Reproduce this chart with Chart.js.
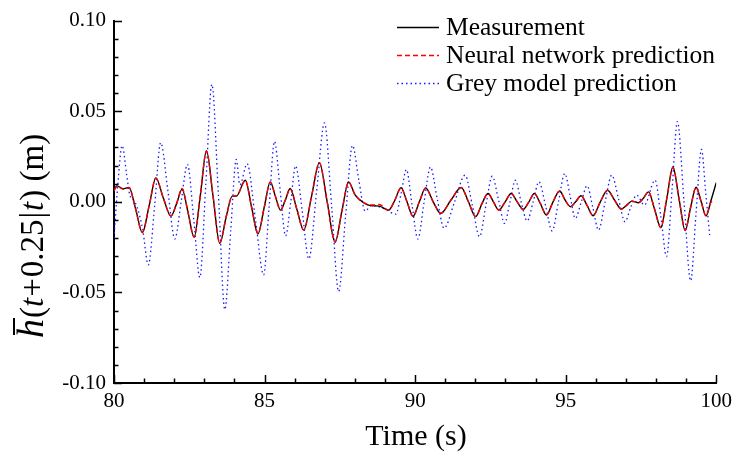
<!DOCTYPE html>
<html>
<head>
<meta charset="utf-8">
<script src="https://cdn.jsdelivr.net/npm/chart.js@4.4.1/dist/chart.umd.min.js"></script>
<style>
  html, body { margin: 0; padding: 0; background: #ffffff; }
  #wrap { width: 738px; height: 459px; }
</style>
</head>
<body>
<div id="wrap"><canvas id="c" width="738" height="459"></canvas></div>
<script>
// ---- Data ----
const seriesLabels = ["Measurement", "Neural network prediction", "Grey model prediction"];

const measTime = [80.00, 80.10, 80.30, 80.50, 80.72, 80.94, 81.17, 81.39, 81.64, 81.89, 82.08, 82.26, 82.46, 82.66, 82.87, 83.07, 83.29, 83.51, 83.73, 83.92, 84.07, 84.36, 84.57, 84.78, 84.99, 85.19, 85.36, 85.53, 85.69, 85.85, 86.07, 86.30, 86.56, 86.82, 87.08, 87.34, 87.57, 87.79, 88.00, 88.15, 88.40, 88.59, 88.81, 89.12, 89.33, 89.53, 89.73, 89.93, 90.14, 90.35, 90.60, 90.85, 91.19, 91.53, 91.77, 92.01, 92.22, 92.42, 92.60, 92.78, 92.99, 93.19, 93.39, 93.59, 93.78, 93.96, 94.16, 94.36, 94.58, 94.80, 94.98, 95.16, 95.33, 95.51, 95.71, 95.91, 96.15, 96.39, 96.62, 96.85, 97.02, 97.20, 97.42, 97.58, 97.75, 97.95, 98.16, 98.36, 98.56, 98.77, 98.97, 99.15, 99.33, 99.50, 99.66, 99.83, 100.00];
const measValue = [0.0070, 0.0088, 0.0072, 0.0079, -0.0040, -0.0170, -0.0020, 0.0132, 0.0020, -0.0079, -0.0010, 0.0070, -0.0060, -0.0196, 0.0040, 0.0282, 0.0030, -0.0229, -0.0080, 0.0030, 0.0032, 0.0119, -0.0030, -0.0177, -0.0030, 0.0110, 0.0030, -0.0046, 0.0010, 0.0073, -0.0040, -0.0156, 0.0030, 0.0216, 0.0000, -0.0223, -0.0050, 0.0110, 0.0040, 0.0013, -0.0015, -0.0022, -0.0024, -0.0046, 0.0010, 0.0078, 0.0000, -0.0080, 0.0000, 0.0077, 0.0000, -0.0064, 0.0010, 0.0079, 0.0000, -0.0082, -0.0010, 0.0046, 0.0000, -0.0046, 0.0000, 0.0046, 0.0000, -0.0042, 0.0000, 0.0046, -0.0010, -0.0073, 0.0000, 0.0060, 0.0010, -0.0027, 0.0000, 0.0033, -0.0020, -0.0077, 0.0000, 0.0064, 0.0010, -0.0040, -0.0020, 0.0004, -0.0005, 0.0020, 0.0055, -0.0040, -0.0143, 0.0020, 0.0192, 0.0010, -0.0159, -0.0030, 0.0080, 0.0000, -0.0078, 0.0010, 0.0106];

const nnTime = [80.00, 80.10, 80.30, 80.50, 80.72, 80.94, 81.17, 81.39, 81.64, 81.89, 82.08, 82.26, 82.46, 82.66, 82.87, 83.07, 83.29, 83.51, 83.73, 83.92, 84.07, 84.36, 84.57, 84.78, 84.99, 85.19, 85.36, 85.53, 85.69, 85.85, 86.07, 86.30, 86.56, 86.82, 87.08, 87.34, 87.57, 87.79, 88.00, 88.15, 88.40, 88.59, 88.81, 89.12, 89.33, 89.53, 89.73, 89.93, 90.14, 90.35, 90.60, 90.85, 91.19, 91.53, 91.77, 92.01, 92.22, 92.42, 92.60, 92.78, 92.99, 93.19, 93.39, 93.59, 93.78, 93.96, 94.16, 94.36, 94.58, 94.80, 94.98, 95.16, 95.33, 95.51, 95.71, 95.91, 96.15, 96.39, 96.62, 96.85, 97.02, 97.20, 97.42, 97.58, 97.75, 97.95, 98.16, 98.36, 98.56, 98.77, 98.97, 99.15, 99.33, 99.50, 99.66, 99.80, 99.86, 99.93];
const nnValue = [0.0060, 0.0085, 0.0070, 0.0078, -0.0042, -0.0168, -0.0020, 0.0130, 0.0020, -0.0078, -0.0008, 0.0074, -0.0060, -0.0194, 0.0040, 0.0280, 0.0030, -0.0227, -0.0080, 0.0030, 0.0034, 0.0117, -0.0030, -0.0175, -0.0030, 0.0108, 0.0030, -0.0045, 0.0010, 0.0072, -0.0040, -0.0155, 0.0030, 0.0214, 0.0000, -0.0221, -0.0050, 0.0108, 0.0040, 0.0012, -0.0013, -0.0018, -0.0015, -0.0045, 0.0010, 0.0077, 0.0000, -0.0079, 0.0000, 0.0076, 0.0000, -0.0063, 0.0010, 0.0078, 0.0000, -0.0081, -0.0010, 0.0046, 0.0000, -0.0045, 0.0000, 0.0045, 0.0000, -0.0042, 0.0000, 0.0046, -0.0010, -0.0072, 0.0000, 0.0059, 0.0010, -0.0027, 0.0000, 0.0033, -0.0020, -0.0076, 0.0000, 0.0063, 0.0010, -0.0040, -0.0020, 0.0004, -0.0005, 0.0020, 0.0054, -0.0040, -0.0141, 0.0020, 0.0190, 0.0010, -0.0157, -0.0030, 0.0079, 0.0000, -0.0077, -0.0010, 0.0000, -0.0002];

const greyTime = [80.00, 80.12, 80.27, 80.42, 80.52, 80.65, 80.77, 80.95, 81.14, 81.35, 81.55, 81.79, 82.02, 82.23, 82.44, 82.65, 82.85, 83.05, 83.25, 83.47, 83.68, 83.88, 84.06, 84.18, 84.42, 84.70, 84.97, 85.15, 85.33, 85.52, 85.70, 85.87, 86.03, 86.25, 86.47, 86.73, 86.99, 87.23, 87.46, 87.69, 87.92, 88.13, 88.34, 88.55, 88.75, 89.00, 89.36, 89.54, 89.71, 89.90, 90.09, 90.30, 90.51, 90.73, 90.96, 91.31, 91.66, 91.90, 92.14, 92.35, 92.56, 92.77, 92.97, 93.15, 93.33, 93.52, 93.72, 93.92, 94.11, 94.33, 94.55, 94.76, 94.97, 95.15, 95.32, 95.52, 95.71, 95.90, 96.09, 96.31, 96.53, 96.75, 96.97, 97.16, 97.36, 97.61, 97.97, 98.16, 98.35, 98.53, 98.71, 98.93, 99.15, 99.33, 99.51, 99.65, 99.78];
const greyValue = [-0.0200, 0.0080, 0.0310, 0.0150, 0.0040, 0.0010, -0.0030, -0.0150, -0.0348, -0.0020, 0.0326, 0.0060, -0.0205, 0.0000, 0.0207, -0.0100, -0.0418, 0.0100, 0.0648, 0.0030, -0.0595, -0.0150, 0.0234, 0.0093, 0.0210, -0.0100, -0.0403, -0.0030, 0.0333, 0.0060, -0.0188, 0.0000, 0.0198, -0.0050, -0.0315, 0.0060, 0.0436, -0.0030, -0.0495, -0.0080, 0.0311, 0.0120, -0.0051, -0.0020, -0.0025, -0.0040, -0.0068, 0.0050, 0.0178, -0.0020, -0.0205, 0.0000, 0.0192, 0.0020, -0.0146, 0.0000, 0.0147, -0.0020, -0.0192, -0.0020, 0.0141, 0.0010, -0.0119, 0.0000, 0.0119, 0.0000, -0.0106, 0.0000, 0.0110, -0.0020, -0.0161, 0.0000, 0.0156, 0.0030, -0.0092, 0.0000, 0.0088, -0.0030, -0.0156, 0.0000, 0.0147, 0.0020, -0.0110, -0.0030, 0.0037, -0.0018, 0.0119, -0.0080, -0.0302, 0.0060, 0.0443, 0.0000, -0.0436, -0.0060, 0.0289, 0.0050, -0.0183];

const xTickValues = [80, 85, 90, 95, 100];
const yTickValues = [-0.10, -0.05, 0.00, 0.05, 0.10];

// ---- helpers ----
const toPoints = (ts, vs) => ts.map((t, i) => ({ x: t, y: vs[i] }));
const SERIF = '"Liberation Serif", "Times New Roman", serif';

// inward major / minor tick marks
const inwardTicks = {
  id: 'inwardTicks',
  afterDraw(chart) {
    const { ctx, chartArea: a, scales: { x, y } } = chart;
    ctx.save();
    ctx.strokeStyle = '#000';
    ctx.lineWidth = 1.5;
    ctx.beginPath();
    for (let v = 80; v <= 100; v += 1) {
      const px = Math.round(x.getPixelForValue(v)) + 0.5;
      const len = (v % 5 === 0) ? 8 : 4.5;
      ctx.moveTo(px, a.bottom);
      ctx.lineTo(px, a.bottom - len);
    }
    for (let k = -10; k <= 10; k++) {
      const py = Math.round(y.getPixelForValue(k / 100)) + 0.5;
      const len = (k % 5 === 0) ? 8 : 4.5;
      ctx.moveTo(a.left, py);
      ctx.lineTo(a.left + len, py);
    }
    ctx.stroke();
    ctx.restore();
  }
};

// legend drawn in the upper right, inside the plot
const customLegend = {
  id: 'customLegend',
  afterDraw(chart) {
    const { ctx } = chart;
    const order = [0, 1, 2];
    const rows = [27, 55, 83];
    ctx.save();
    order.forEach((di, r) => {
      const ds = chart.data.datasets[di];
      ctx.strokeStyle = ds.borderColor;
      ctx.lineWidth = ds.borderWidth;
      ctx.setLineDash(ds.borderDash || []);
      ctx.beginPath();
      ctx.moveTo(397, rows[r] + 0.5);
      ctx.lineTo(439, rows[r] + 0.5);
      ctx.stroke();
      ctx.setLineDash([]);
      ctx.fillStyle = '#000';
      ctx.font = '25.5px ' + SERIF;
      ctx.textAlign = 'left';
      ctx.textBaseline = 'middle';
      ctx.fillText(ds.label, 446, rows[r] + 1);
    });
    ctx.restore();
  }
};

// axis titles (the y title mixes italic and upright parts)
const axisTitles = {
  id: 'axisTitles',
  afterDraw(chart) {
    const { ctx } = chart;
    ctx.save();
    ctx.fillStyle = '#000';
    ctx.font = '30px ' + SERIF;
    ctx.textAlign = 'center';
    ctx.textBaseline = 'middle';
    ctx.fillText('Time (s)', 416, 437);
    ctx.restore();

    const parts = [
      { t: 'h', f: 'italic 38px ' + SERIF, gap: 1 },
      { t: '(', f: '33px ' + SERIF, gap: 0 },
      { t: 't', f: 'italic 33px ' + SERIF, gap: 1 },
      { t: '+', f: '33px ' + SERIF, gap: 1 },
      { t: '0.25', f: '33px ' + SERIF, gap: 1 },
      { t: '|', f: '33px ' + SERIF, gap: 1 },
      { t: 't', f: 'italic 33px ' + SERIF, gap: 1 },
      { t: ') (m)', f: '33px ' + SERIF, gap: 0 }
    ];
    ctx.save();
    ctx.translate(43, 338);
    ctx.rotate(-Math.PI / 2);
    ctx.textAlign = 'left';
    ctx.textBaseline = 'alphabetic';
    ctx.fillStyle = '#000';
    let xpos = 0;
    let hStart = 0, hEnd = 0;
    parts.forEach((p, i) => {
      ctx.font = p.f;
      const w = ctx.measureText(p.t).width;
      if (i === 0) { hStart = xpos; hEnd = xpos + w; }
      ctx.fillText(p.t, xpos, 0);
      xpos += w + p.gap;
    });
    // overbar above h
    ctx.strokeStyle = '#000';
    ctx.lineWidth = 2;
    ctx.beginPath();
    ctx.moveTo(hStart + 3, -29);
    ctx.lineTo(hEnd + 1, -29);
    ctx.stroke();
    ctx.restore();
  }
};

const ctx = document.getElementById('c').getContext('2d');
new Chart(ctx, {
  type: 'line',
  data: {
    datasets: [
      {
        label: seriesLabels[0],
        data: toPoints(measTime, measValue),
        borderColor: '#000000',
        borderWidth: 1.4,
        borderDash: [],
        pointRadius: 0,
        cubicInterpolationMode: 'monotone',
        order: 1
      },
      {
        label: seriesLabels[1],
        data: toPoints(nnTime, nnValue),
        borderColor: '#ff0000',
        borderWidth: 1.4,
        borderDash: [5, 3],
        pointRadius: 0,
        cubicInterpolationMode: 'monotone',
        order: 0
      },
      {
        label: seriesLabels[2],
        data: toPoints(greyTime, greyValue),
        borderColor: '#1a1aff',
        borderWidth: 1.3,
        borderDash: [1.5, 3],
        pointRadius: 0,
        cubicInterpolationMode: 'monotone',
        order: 2
      }
    ]
  },
  options: {
    responsive: false,
    animation: false,
    devicePixelRatio: 1,
    layout: { padding: { left: 0, right: 16, top: 19, bottom: 0 } },
    plugins: { legend: { display: false }, tooltip: { enabled: false } },
    scales: {
      x: {
        type: 'linear',
        min: 80, max: 100,
        afterBuildTicks: (axis) => { axis.ticks = xTickValues.map(v => ({ value: v })); },
        afterFit: (axis) => { axis.height = 76; },
        grid: { display: false, drawTicks: false },
        border: { display: true, color: '#000', width: 2 },
        ticks: {
          color: '#000',
          font: { family: SERIF, size: 21 },
          padding: 6,
          maxRotation: 0,
          callback: (v) => String(Math.round(v))
        }
      },
      y: {
        type: 'linear',
        min: -0.1, max: 0.1,
        afterBuildTicks: (axis) => { axis.ticks = yTickValues.map(v => ({ value: v })); },
        afterFit: (axis) => { axis.width = 114; },
        grid: { display: false, drawTicks: false },
        border: { display: true, color: '#000', width: 2 },
        ticks: {
          color: '#000',
          font: { family: SERIF, size: 21 },
          padding: 8,
          callback: (v) => Number(v).toFixed(2)
        }
      }
    }
  },
  plugins: [inwardTicks, customLegend, axisTitles]
});
</script>
</body>
</html>
